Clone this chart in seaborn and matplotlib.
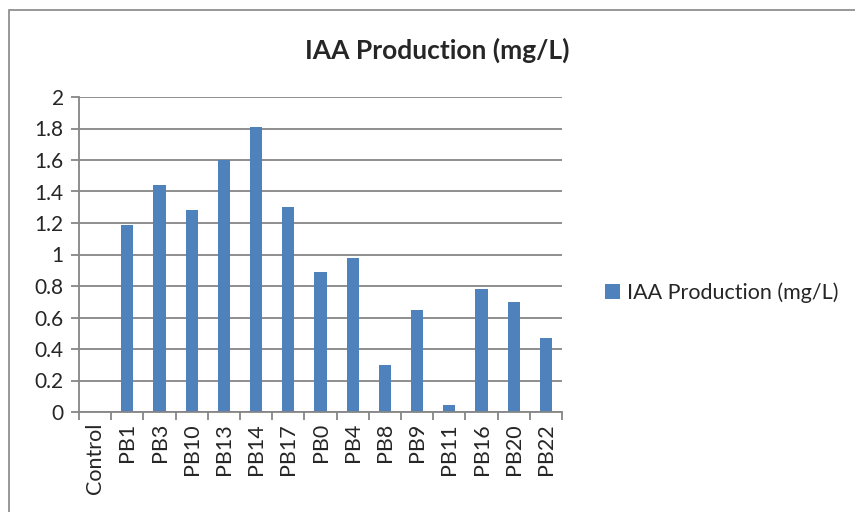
import numpy as np
import pandas as pd
import seaborn as sns
import matplotlib.pyplot as plt
from matplotlib.patches import Rectangle, Patch

strains = ['Control', 'PB1', 'PB3', 'PB10', 'PB13', 'PB14', 'PB17', 'PB0',
           'PB4', 'PB8', 'PB9', 'PB11', 'PB16', 'PB20', 'PB22']
iaa = [0.0, 1.19, 1.44, 1.28, 1.60, 1.81, 1.30, 0.89,
       0.98, 0.30, 0.65, 0.045, 0.78, 0.70, 0.47]
series_name = 'IAA Production (mg/L)'

sns.set_style('white')
plt.rcParams['font.family'] = ['Lato', 'DejaVu Sans']

df = pd.DataFrame({'strain': strains, 'value': iaa})

fig = plt.figure(figsize=(8.55, 5.12), dpi=100)
ax = fig.add_axes([79 / 855, 1 - 412 / 512, (562 - 79) / 855, (412 - 97) / 512])

grey = '#868686'
bar_col = '#4F81BD'
sns.barplot(data=df, x='strain', y='value', color=bar_col, width=0.38,
            saturation=1, ax=ax, edgecolor='none')

ax.set_ylim(0, 2)
ax.set_xlim(-0.5, len(strains) - 0.5)
ax.set_yticks(np.arange(0, 2.01, 0.2))
ax.set_yticklabels(['0', '0.2', '0.4', '0.6', '0.8', '1', '1.2', '1.4', '1.6', '1.8', '2'])
ax.yaxis.grid(True, color=grey, linewidth=1.3)
ax.set_axisbelow(True)
ax.set_xlabel('')
ax.set_ylabel('')

for s in ['top', 'right']:
    ax.spines[s].set_visible(False)
for s in ['left', 'bottom']:
    ax.spines[s].set_color(grey)
    ax.spines[s].set_linewidth(1.3)

ax.tick_params(axis='y', which='major', left=True, length=6, width=1.3, color=grey,
               labelsize=15, pad=5)
ax.set_xticks(range(len(strains)))
ax.set_xticklabels(strains, rotation=90, fontsize=15.5)
ax.tick_params(axis='x', which='major', bottom=False, length=0, pad=8)
ax.set_xticks(np.arange(-0.5, len(strains), 1.0), minor=True)
ax.tick_params(axis='x', which='minor', bottom=True, length=6, width=1.3, color=grey)

fig.text(437 / 855, 1 - 50 / 512, series_name, ha='center', va='center',
         fontsize=19, fontweight='bold')

handle = Patch(facecolor=bar_col, edgecolor='none')
fig.legend([handle], [series_name], loc='center left',
           bbox_to_anchor=(586 / 855, 1 - 293 / 512), frameon=False,
           fontsize=15.5, handlelength=0.7, handleheight=0.7, handletextpad=0.3)

fig.patches.append(Rectangle((9 / 855, -0.1), 1.2, 1 - 10 / 512 + 0.1,
                             transform=fig.transFigure, fill=False,
                             edgecolor=grey, linewidth=1.2))

fig.savefig('out.png', dpi=100)
